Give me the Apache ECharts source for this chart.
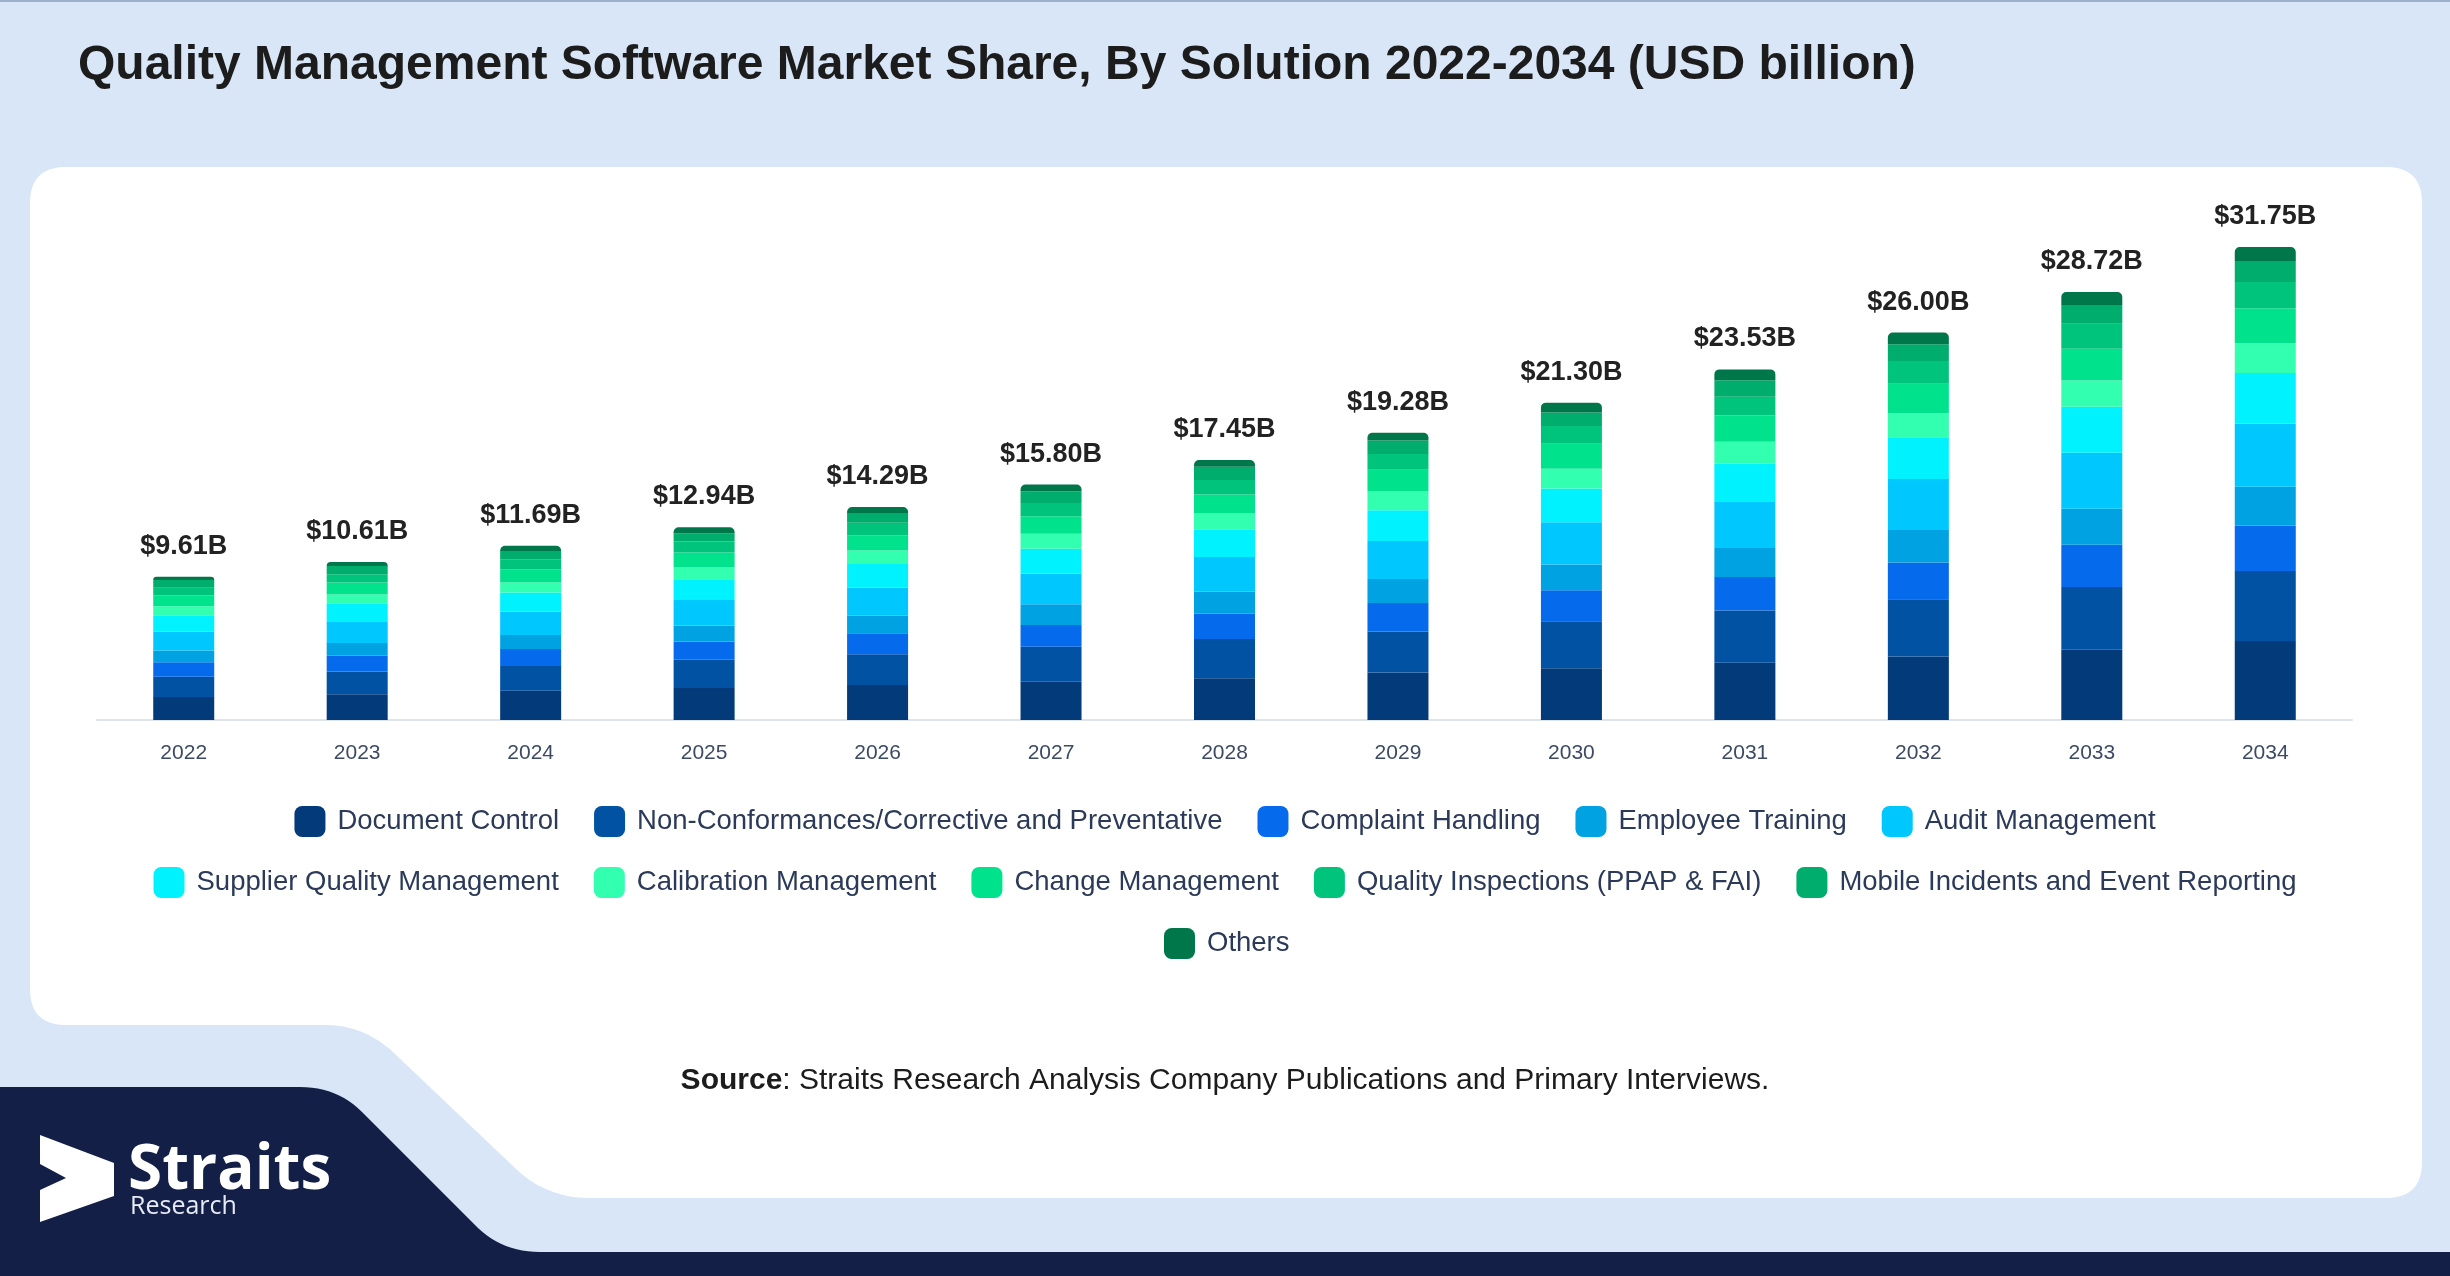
<!DOCTYPE html>
<html>
<head>
<meta charset="utf-8">
<script src="https://cdn.jsdelivr.net/npm/echarts@6/dist/echarts.min.js"></script>
<style>
html,body{margin:0;padding:0;background:#d9e6f8;}
#chart{width:2450px;height:1276px;}
</style>
</head>
<body>
<div id="chart"></div>
<script>
const years = ['2022','2023','2024','2025','2026','2027','2028','2029','2030','2031','2032','2033','2034'];
const totals = [9.61,10.61,11.69,12.94,14.29,15.80,17.45,19.28,21.30,23.53,26.00,28.72,31.75];

const documentControl   = [1.55,1.73,1.96,2.14,2.35,2.57,2.81,3.18,3.48,3.85,4.26,4.71,5.30];
const nonConformances   = [1.35,1.53,1.66,1.90,2.06,2.35,2.62,2.76,3.14,3.50,3.85,4.21,4.70];
const complaintHandling = [0.97,1.06,1.14,1.23,1.41,1.46,1.70,1.91,2.08,2.24,2.46,2.85,3.06];
const employeeTraining  = [0.79,0.85,0.94,1.07,1.17,1.39,1.50,1.62,1.73,1.95,2.19,2.40,2.59];
const auditManagement   = [1.28,1.46,1.57,1.72,1.91,2.04,2.31,2.54,2.85,3.14,3.42,3.76,4.23];
const supplierQuality   = [1.06,1.17,1.28,1.39,1.57,1.68,1.84,2.07,2.26,2.53,2.80,3.09,3.41];
const calibration       = [0.63,0.63,0.67,0.81,0.90,1.01,1.08,1.26,1.32,1.46,1.61,1.77,2.00];
const changeManagement  = [0.72,0.79,0.90,0.98,1.03,1.17,1.28,1.46,1.68,1.77,1.97,2.13,2.35];
const qualityInspections= [0.52,0.56,0.67,0.74,0.83,0.90,0.96,1.06,1.19,1.25,1.54,1.68,1.76];
const mobileIncidents   = [0.52,0.56,0.56,0.56,0.61,0.78,0.90,0.90,0.90,1.12,1.12,1.25,1.41];
const others            = [0.22,0.27,0.34,0.40,0.45,0.45,0.45,0.52,0.67,0.72,0.78,0.87,0.94];

const seriesNames = ['Document Control','Non-Conformances/Corrective and Preventative','Complaint Handling','Employee Training','Audit Management','Supplier Quality Management','Calibration Management','Change Management','Quality Inspections (PPAP & FAI)','Mobile Incidents and Event Reporting','Others'];
const seriesData = [documentControl,nonConformances,complaintHandling,employeeTraining,auditManagement,supplierQuality,calibration,changeManagement,qualityInspections,mobileIncidents,others];
const colors = ['#023a7a','#0252a4','#066aec','#00a2e2','#00c8ff','#00f2ff','#33ffb0','#00e38c','#00c47b','#00ad6c','#00774a'];

// decorative outline helper: start point then segments ['L',x,y] or ['Q',cx,cy,x,y]
function outline(start, segs) {
  const pts = [start.slice()];
  let cur = start.slice();
  segs.forEach(s => {
    if (s[0] === 'L') { cur = [s[1], s[2]]; pts.push(cur); }
    else {
      const cx = s[1], cy = s[2], x = s[3], y = s[4];
      for (let k = 1; k <= 12; k++) {
        const t = k / 12, u = 1 - t;
        pts.push([u*u*cur[0] + 2*u*t*cx + t*t*x, u*u*cur[1] + 2*u*t*cy + t*t*y]);
      }
      cur = [x, y];
    }
  });
  return pts;
}

const whitePanel = outline([66,167], [
  ['L',2386,167],['Q',2422,167,2422,203],['L',2422,1162],['Q',2422,1198,2386,1198],
  ['L',590,1198],['Q',546,1198,515,1168],['L',395,1054],['Q',365,1025,325,1025],
  ['L',66,1025],['Q',30,1025,30,989],['L',30,203],['Q',30,167,66,167]
]);
const navyBand = outline([0,1087], [
  ['L',300,1087],['Q',337,1087,362,1112],['L',478,1228],['Q',503,1252,540,1252],
  ['L',2450,1252],['L',2450,1276],['L',0,1276]
]);

const chart = echarts.init(document.getElementById('chart'));
const FONT = 'Liberation Sans, Arial, sans-serif';

const series = seriesNames.map((name, i) => {
  const s = {
    name: name,
    type: 'bar',
    stack: 'total',
    barWidth: 61,
    data: seriesData[i],
    itemStyle: {color: colors[i]},
    emphasis: {disabled: true}
  };
  if (i === seriesNames.length - 1) {
    s.itemStyle.borderRadius = [5,5,0,0];
    s.label = {
      show: true, position: 'top', distance: 17,
      formatter: p => '$' + totals[p.dataIndex].toFixed(2) + 'B',
      fontFamily: FONT, fontSize: 27, fontWeight: 'bold', color: '#222222'
    };
  }
  return s;
});

const legendBase = {
  itemWidth: 31, itemHeight: 31, itemGap: 35, icon: 'roundRect',
  selectedMode: false,
  textStyle: {fontFamily: FONT, fontSize: 27.5, color: '#2c3a5a', padding: [0,0,0,7]}
};

const option = {
  backgroundColor: '#d9e6f8',
  animation: false,
  color: colors,
  title: [
    {text: 'Quality Management Software Market Share, By Solution 2022-2034 (USD billion)',
     left: 78, top: 42, padding: 0,
     textStyle: {fontFamily: FONT, fontSize: 48, fontWeight: 'bold', color: '#1c1c1c'}},
    {text: '{b|Source}: Straits Research Analysis Company Publications and Primary Interviews.',
     left: 'center', top: 1066, padding: 0,
     textStyle: {fontFamily: FONT, fontSize: 30, fontWeight: 'normal', color: '#1c1c1c',
       rich: {b: {fontFamily: FONT, fontSize: 30, fontWeight: 'bold', color: '#1c1c1c'}}}}
  ],
  grid: {left: 97, right: 98, top: 124, bottom: 556, containLabel: false},
  xAxis: {
    type: 'category', data: years,
    axisLine: {lineStyle: {color: '#dfe3ea', width: 2}},
    axisTick: {show: false},
    axisLabel: {fontFamily: FONT, fontSize: 21, color: '#3c4a66', margin: 23}
  },
  yAxis: {type: 'value', min: 0, max: 40, show: false, splitLine: {show: false}},
  legend: [
    Object.assign({}, legendBase, {data: seriesNames.slice(0,5), left: 'center', top: 801}),
    Object.assign({}, legendBase, {data: seriesNames.slice(5,10), left: 'center', top: 862}),
    Object.assign({}, legendBase, {data: seriesNames.slice(10), left: 1159, top: 923})
  ],
  graphic: [
    {type: 'rect', shape: {x: 0, y: 0, width: 2450, height: 2}, style: {fill: '#9fb0cc'}, z: -5, silent: true},
    {type: 'polygon', z: -4, silent: true, shape: {points: whitePanel}, style: {fill: '#ffffff'}},
    {type: 'polygon', z: -3, silent: true, shape: {points: navyBand}, style: {fill: '#131f47'}},
    {type: 'polygon', z: -2, silent: true,
     shape: {points: [[40,1135],[114,1163],[114,1196],[40,1222],[40,1190],[66,1178],[40,1164]]},
     style: {fill: '#ffffff'}},
    {type: 'text', z: -2, silent: true, x: 128, y: 1140,
     style: {text: 'Straits', font: 'bold 62px "Open Sans", sans-serif', fill: '#ffffff'}},
    {type: 'text', z: -2, silent: true, x: 130, y: 1194,
     style: {text: 'Research', font: '25px "Open Sans", sans-serif', fill: '#e6ebf5'}}
  ],
  series: series
};
chart.setOption(option);
</script>
</body>
</html>
